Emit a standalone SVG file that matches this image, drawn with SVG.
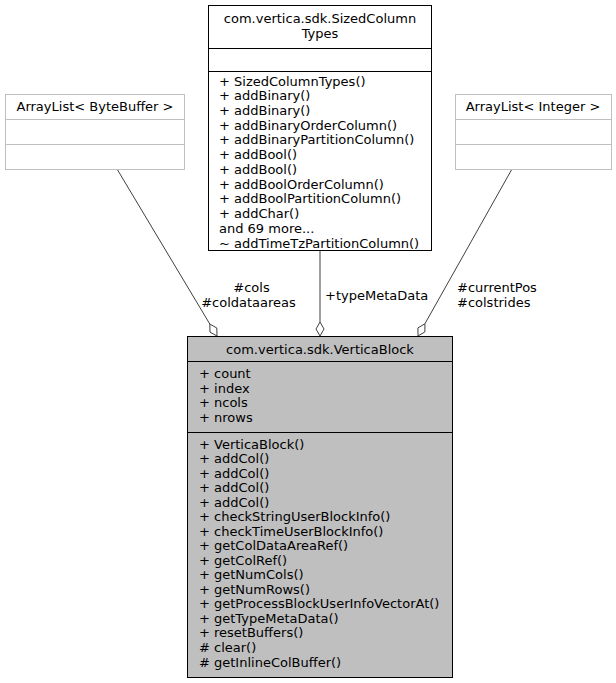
<svg xmlns="http://www.w3.org/2000/svg" width="616" height="683" viewBox="0 0 616 683">
<style>
text{font-family:"DejaVu Sans","Liberation Sans",sans-serif;font-size:13px;fill:#000}
.c{text-anchor:middle}
.box{fill:#fff;stroke:#000;stroke-width:1}
.gbox{fill:#fff;stroke:#bfbfbf;stroke-width:1}
.main{fill:#bfbfbf;stroke:#000;stroke-width:1}
.sep{stroke:#000;stroke-width:1}
.gsep{stroke:#bfbfbf;stroke-width:1}
.edge{stroke:#404040;stroke-width:1;fill:none}
.dia{fill:#fff;stroke:#404040;stroke-width:1}
</style>
<rect width="616" height="683" fill="#fff"/>
<g id="connectors">
<path class="edge" d="M117,169 L209.8,324"/>
<polygon class="dia" points="217,336 210,332.1 209.8,324 216.8,328"/>
<path class="edge" d="M320,250 L320,322"/>
<polygon class="dia" points="320,336 316,329 320,322 324,329"/>
<path class="edge" d="M512,169 L424.9,323.8"/>
<polygon class="dia" points="418,336 417.9,327.9 424.9,323.8 424.9,331.9"/>
<text class="c" x="251.5" y="292">#cols</text>
<text class="c" x="248.5" y="307">#coldataareas</text>
<text x="325" y="300">+typeMetaData</text>
<text x="457" y="292">#currentPos</text>
<text x="457" y="307">#colstrides</text>
</g>
<g id="node_sized">
<rect class="box" x="208.5" y="5.5" width="223" height="245"/>
<line class="sep" x1="208.5" y1="48.5" x2="431.5" y2="48.5"/>
<line class="sep" x1="208.5" y1="71.5" x2="431.5" y2="71.5"/>
<text class="c" x="320" y="22.5">com.vertica.sdk.SizedColumn</text>
<text class="c" x="320" y="37.5">Types</text>
<text x="219" y="85.5">+ SizedColumnTypes()</text>
<text x="219" y="100.2">+ addBinary()</text>
<text x="219" y="114.9">+ addBinary()</text>
<text x="219" y="129.7">+ addBinaryOrderColumn()</text>
<text x="219" y="144.4">+ addBinaryPartitionColumn()</text>
<text x="219" y="159.1">+ addBool()</text>
<text x="219" y="173.9">+ addBool()</text>
<text x="219" y="188.6">+ addBoolOrderColumn()</text>
<text x="219" y="203.3">+ addBoolPartitionColumn()</text>
<text x="219" y="218">+ addChar()</text>
<text x="219" y="232.8">and 69 more...</text>
<text x="219" y="247.5">~ addTimeTzPartitionColumn()</text>
</g>
<g id="node_bytebuffer">
<rect class="gbox" x="5.5" y="94.5" width="179" height="75"/>
<line class="gsep" x1="5.5" y1="119.5" x2="184.5" y2="119.5"/>
<line class="gsep" x1="5.5" y1="144.5" x2="184.5" y2="144.5"/>
<text class="c" x="95" y="110.5">ArrayList&lt; ByteBuffer &gt;</text>
</g>
<g id="node_integer">
<rect class="gbox" x="455.5" y="94.5" width="156" height="75"/>
<line class="gsep" x1="455.5" y1="119.5" x2="611.5" y2="119.5"/>
<line class="gsep" x1="455.5" y1="144.5" x2="611.5" y2="144.5"/>
<text class="c" x="533" y="110.5">ArrayList&lt; Integer &gt;</text>
</g>
<g id="node_verticablock">
<rect class="main" x="187.5" y="336.5" width="265" height="341"/>
<line class="sep" x1="187.5" y1="361.5" x2="452.5" y2="361.5"/>
<line class="sep" x1="187.5" y1="432.5" x2="452.5" y2="432.5"/>
<text class="c" x="320" y="353.5">com.vertica.sdk.VerticaBlock</text>
<text x="199" y="378">+ count</text>
<text x="199" y="392.5">+ index</text>
<text x="199" y="407">+ ncols</text>
<text x="199" y="421.5">+ nrows</text>
<text x="199" y="448.5">+ VerticaBlock()</text>
<text x="199" y="463">+ addCol()</text>
<text x="199" y="477.5">+ addCol()</text>
<text x="199" y="492.1">+ addCol()</text>
<text x="199" y="506.6">+ addCol()</text>
<text x="199" y="521.1">+ checkStringUserBlockInfo()</text>
<text x="199" y="535.7">+ checkTimeUserBlockInfo()</text>
<text x="199" y="550.2">+ getColDataAreaRef()</text>
<text x="199" y="564.7">+ getColRef()</text>
<text x="199" y="579.3">+ getNumCols()</text>
<text x="199" y="593.8">+ getNumRows()</text>
<text x="199" y="608.3">+ getProcessBlockUserInfoVectorAt()</text>
<text x="199" y="622.9">+ getTypeMetaData()</text>
<text x="199" y="637.4">+ resetBuffers()</text>
<text x="199" y="651.9"># clear()</text>
<text x="199" y="666.5"># getInlineColBuffer()</text>
</g>
</svg>
